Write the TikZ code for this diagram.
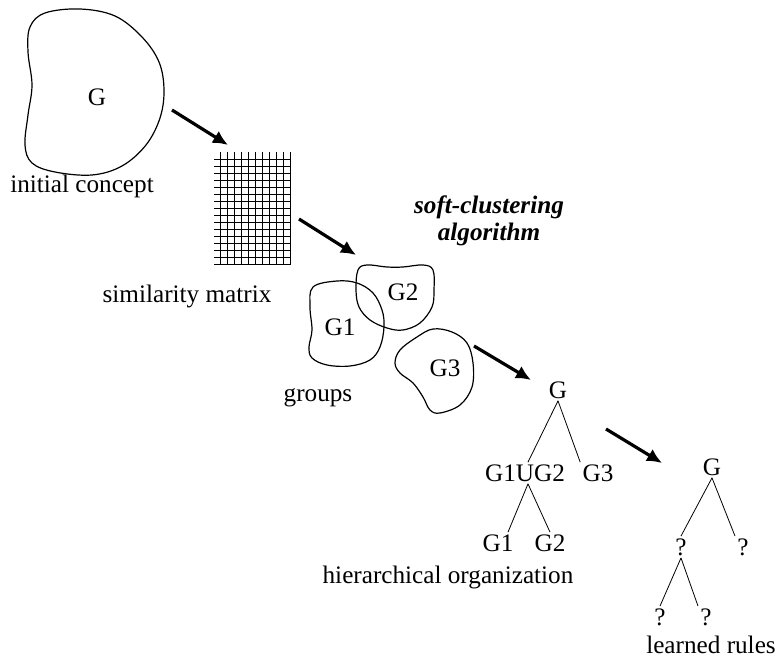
\documentclass[tikz,border=0pt]{standalone}
\usepackage{fontspec}
\setmainfont{Liberation Serif}
\usetikzlibrary{arrows.meta}
\begin{document}
\begin{tikzpicture}[x=0.5pt,y=-0.5pt,
  every node/.style={font=\fontsize{12.6}{13.5}\selectfont, inner sep=1pt},
  blob/.style={line width=0.6pt},
  cell/.style={line width=0.45pt},
  flow/.style={line width=1.6pt, -{Latex[length=7.5pt,width=7pt]}},
  branch/.style={line width=0.4pt}]

\useasboundingbox (0,0) rectangle (777,662);

\draw[blob] plot[smooth cycle, tension=0.6] coordinates {(30,27) (45,13) (80,9) (115,16) (142,37) (159,62) (164,90) (160,118) (146,145) (122,166) (92,175) (55,172) (32,163) (25,145) (28,115) (32,85) (28,52)};
\node (concept) at (97,97) {G};
\node (conceptlabel) at (82,186) {initial concept};

\foreach \i in {0,...,10} \draw[cell] (220.7+6.93*\i,152) -- (220.7+6.93*\i,265);
\foreach \j in {0,...,15} \draw[cell] (214,159+7*\j) -- (290,159+7*\j);
\node (matrixlabel) at (187,296) {similarity matrix};

\node[font=\fontsize{12.6}{13.5}\selectfont\bfseries\itshape, align=center] (algo) at (489,221) {soft-clustering\\algorithm};

\draw[blob] plot[smooth cycle, tension=0.6] coordinates {(313,287) (337,281) (357,283) (373,293) (382,310) (384,327) (380,347) (370,360) (350,366) (327,365) (312,358) (309,347) (312,330) (310,307)};
\draw[blob] plot[smooth cycle, tension=0.6] coordinates {(356,290) (358,270) (367,265) (387,267) (403,267) (423,265) (433,270) (434,290) (432,307) (420,323) (403,330) (387,328) (370,320) (359,307)};
\draw[blob] plot[smooth cycle, tension=0.6] coordinates {(395,363) (400,350) (417,337) (433,329) (452,332) (467,343) (473,363) (472,387) (460,405) (440,413) (430,410) (423,397) (413,383) (400,373)};
\node (grp1) at (340,327) {G1};
\node (grp2) at (403,292) {G2};
\node (grp3) at (445,368) {G3};
\node (groupslabel) at (318,398) {groups};

% hierarchical organization
\node (h) at (558,390) {G};
\node (h12) at (525,473) {G1UG2};
\node (h3) at (598,473) {G3};
\node (h1) at (498,543) {G1};
\node (h2) at (550,543) {G2};
\draw[branch] (h.south) -- ([xshift=1.5pt]h12.north);
\draw[branch] (h.south) -- (h3.north west);
\draw[branch] ([xshift=1.5pt]h12.south) -- ([xshift=5pt]h1.north);
\draw[branch] ([xshift=1.5pt]h12.south) -- (h2.north);
\node (hlabel) at (448,577) {hierarchical organization};

% learned rules
\node (r) at (712,467) {G};
\node (r1) at (681,547) {?};
\node (r2) at (743,547) {?};
\node (r11) at (660,617) {?};
\node (r12) at (706,617) {?};
\draw[branch] (r.south) -- (r1.north);
\draw[branch] (r.south) -- (r2.north west);
\draw[branch] (r1.south) -- (r11.north);
\draw[branch] (r1.south) -- (r12.north west);
\node (rlabel) at (711,645) {learned rules};

\coordinate (a1) at (172,110); \coordinate (b1) at (228,145);
\coordinate (a2) at (299,219); \coordinate (b2) at (356,255);
\coordinate (a3) at (474,346); \coordinate (b3) at (531,380);
\coordinate (a4) at (606,429); \coordinate (b4) at (662,463);
\draw[flow] (a1) -- (b1);
\draw[flow] (a2) -- (b2);
\draw[flow] (a3) -- (b3);
\draw[flow] (a4) -- (b4);
\end{tikzpicture}
\end{document}
